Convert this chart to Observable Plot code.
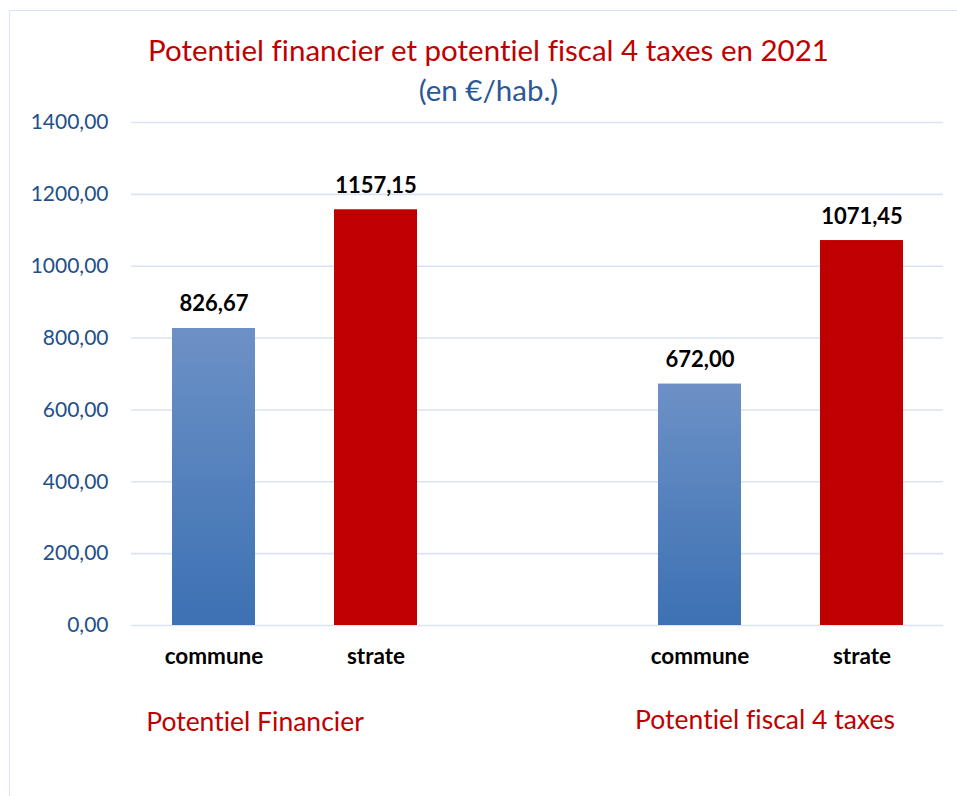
<!DOCTYPE html>
<html>
<head>
<meta charset="utf-8">
<script src="https://cdn.jsdelivr.net/npm/d3@7"></script>
<script src="https://cdn.jsdelivr.net/npm/@observablehq/plot@0.6"></script>
<style>
  html, body { margin: 0; padding: 0; background: #fff; }
  #wrap { position: relative; width: 957px; height: 796px; overflow: hidden; font-family: Lato, "Open Sans", sans-serif; font-variant-ligatures: none; font-feature-settings: "liga" 0, "clig" 0; }
  #wrap svg, #wrap svg text { font-variant-ligatures: none; font-feature-settings: "liga" 0, "clig" 0; }
  #frame { position: absolute; left: 9px; top: 10px; width: 2000px; height: 2000px; border-left: 1.5px solid #D6E4F6; border-top: 1.5px solid #D6E4F6; box-sizing: border-box; }
  #chart { position: absolute; left: 0; top: 0; }
  .title { position: absolute; left: 0; width: 977px; text-align: center; white-space: nowrap; }
  #t1 { top: 32px; font-size: 29.5px; color: #C00000; }
  #t2 { top: 72px; font-size: 29.5px; color: #2B5796; }
  .group { position: absolute; font-size: 26.5px; color: #C00000; white-space: nowrap; transform: translateX(-50%); }
</style>
</head>
<body>
<div id="wrap">
  <div id="frame"></div>
  <div id="chart"></div>
  <div class="title" id="t1">Potentiel financier et potentiel fiscal 4 taxes en 2021</div>
  <div class="title" id="t2">(en €/hab.)</div>
</div>
<script>
// ---- data ----
const groups = ["Potentiel Financier", "Potentiel fiscal 4 taxes"];
const categories = ["commune", "strate"];
const communeValues = [826.67, 672.00];
const strateValues = [1157.15, 1071.45];
const yTicks = [0, 200, 400, 600, 800, 1000, 1200, 1400];

const valuesByCat = { commune: communeValues, strate: strateValues };
const rows = [];
groups.forEach((g, gi) => categories.forEach(c => rows.push({ key: g + "|" + c, group: g, cat: c, value: valuesByCat[c][gi] })));
const xDomain = [];
groups.forEach((g, gi) => {
  categories.forEach(c => xDomain.push(g + "|" + c));
  if (gi < groups.length - 1) xDomain.push("gap" + gi);
});
const fmt = v => v.toFixed(2).replace(".", ",");

const defs = () => {
  const d = d3.create("svg:defs");
  const lg = d.append("linearGradient").attr("id", "gradCommune").attr("x1", 0).attr("y1", 0).attr("x2", 0).attr("y2", 1);
  lg.append("stop").attr("offset", "0%").attr("stop-color", "#6D91C6");
  lg.append("stop").attr("offset", "100%").attr("stop-color", "#3C71B3");
  return d.node();
};

const W = 957, H = 700;
const chart = Plot.plot({
  width: W,
  height: H,
  marginLeft: 131,
  marginRight: 14,
  marginTop: 122,
  marginBottom: H - 625,
  style: { fontFamily: "Lato, 'Open Sans', sans-serif", background: "transparent", overflow: "visible" },
  x: { domain: xDomain, paddingInner: 0.49, paddingOuter: 0.245, label: null },
  y: { domain: [0, 1400], label: null },
  color: { type: "identity" },
  marks: [
    defs,
    Plot.ruleY(yTicks, { stroke: "#D9E3F3", strokeWidth: 1.6 }),
    Plot.barY(rows, { x: "key", y: "value", fill: d => d.cat === "commune" ? "url(#gradCommune)" : "#C00000" }),
    Plot.text(rows, { x: "key", y: "value", text: d => fmt(d.value), dy: -17, lineAnchor: "bottom", fontSize: 22, fontWeight: "bold", fill: "#000" }),
    Plot.axisY(yTicks, { tickSize: 0, tickPadding: 23, tickFormat: fmt, fontSize: 21, fill: "#23508A", label: null }),
    Plot.axisX(xDomain.filter(k => !k.startsWith("gap")), { tickSize: 0, tickPadding: 23, tickFormat: k => k.split("|")[1], fontSize: 22.5, fontWeight: "bold", fill: "#000", label: null })
  ]
});
document.getElementById("chart").appendChild(chart);

// group labels beneath the category axis
const groupCenters = [255, 765];
groups.forEach((g, i) => {
  const el = document.createElement("div");
  el.className = "group";
  el.textContent = g;
  el.style.left = groupCenters[i] + "px";
  el.style.top = (704 + (i === 0 ? 1 : -1)) + "px";
  document.getElementById("wrap").appendChild(el);
});
</script>
</body>
</html>
